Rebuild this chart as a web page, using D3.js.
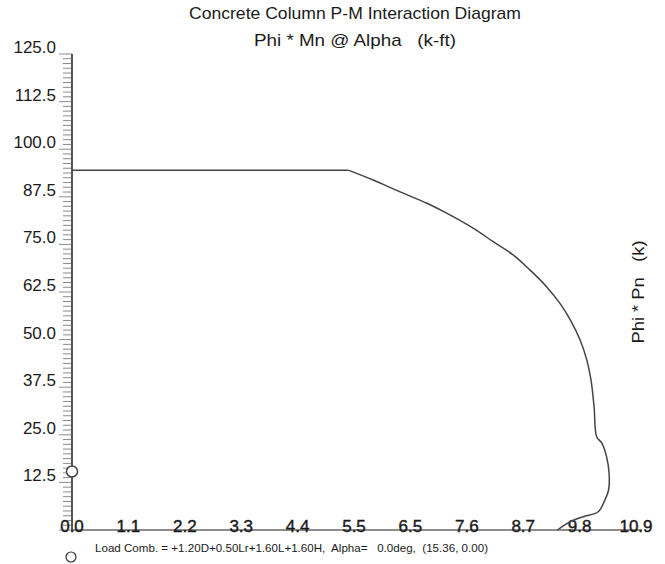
<!DOCTYPE html>
<html>
<head>
<meta charset="utf-8">
<script src="https://cdn.jsdelivr.net/npm/d3@7"></script>
<style>
  html, body { margin: 0; padding: 0; background: #fff; }
  svg { display: block; }
  text { font-family: "Liberation Sans", Arial, sans-serif; fill: #1a1a1a; }
</style>
</head>
<body>
<script>
// Interaction curve: design moment (k-ft) vs design axial load (k)
const momentVals = [0, 5.34, 5.82, 6.34, 6.86, 7.24, 7.76, 8.14, 8.53, 8.85, 9.17, 9.43, 9.63, 9.82, 9.95, 10.03, 10.09, 10.14, 10.24, 10.33, 10.38, 10.37, 10.30, 10.17, 9.88, 9.63, 9.38];
const axialVals  = [94.5, 94.5, 91.9, 88.8, 85.8, 83.2, 79.2, 75.7, 72.2, 68.3, 63.9, 59.5, 55.2, 49.9, 44.6, 39.4, 32.4, 24.5, 22.8, 19.3, 14.9, 10.5, 7.9, 4.8, 3.5, 2.2, 0.0];

// Axis tick labels
const xTickVals   = [0, 1.09, 2.18, 3.27, 4.36, 5.45, 6.54, 7.63, 8.72, 9.81, 10.9];
const xTickLabels = ["0.0", "1.1", "2.2", "3.3", "4.4", "5.5", "6.5", "7.6", "8.7", "9.8", "10.9"];
const yTickVals   = [12.5, 25, 37.5, 50, 62.5, 75, 87.5, 100, 112.5, 125];
const yTickLabels = ["12.5", "25.0", "37.5", "50.0", "62.5", "75.0", "87.5", "100.0", "112.5", "125.0"];

// Load combination point (M, P)
const loadMoment = [0.00];
const loadAxial  = [15.36];
const legendText = "Load Comb. = +1.20D+0.50Lr+1.60L+1.60H,  Alpha=   0.0deg,  (15.36, 0.00)";

const W = 665, H = 564;
const svg = d3.select("body").append("svg").attr("width", W).attr("height", H);
svg.append("rect").attr("width", W).attr("height", H).attr("fill", "#fff");

const x = d3.scaleLinear().domain([0, 10.9]).range([72, 636]);
const y = d3.scaleLinear().domain([0, 125]).range([530, 54]);

// Titles
svg.append("text").attr("x", 355).attr("y", 19).attr("text-anchor", "middle")
  .attr("font-size", 17).attr("textLength", 332).attr("lengthAdjust", "spacingAndGlyphs")
  .text("Concrete Column P-M Interaction Diagram");
svg.append("text").attr("x", 355).attr("y", 46).attr("text-anchor", "middle")
  .attr("font-size", 17).attr("xml:space", "preserve")
  .attr("textLength", 202).attr("lengthAdjust", "spacingAndGlyphs")
  .text("Phi * Mn @ Alpha   (k-ft)");

// Vertical axis title on the right
svg.append("text").attr("transform", "translate(644,292) rotate(-90)")
  .attr("text-anchor", "middle").attr("font-size", 17).attr("xml:space", "preserve")
  .attr("textLength", 103).attr("lengthAdjust", "spacingAndGlyphs")
  .text("Phi * Pn   (k)");

// Y axis minor ticks every 1.25 k
const minor = d3.range(0, 125.001, 1.25);
svg.append("g").selectAll("line").data(minor).join("line")
  .attr("x1", d => (Math.round(d * 100) % 1250 === 0) ? 59 : 63)
  .attr("x2", 72)
  .attr("y1", d => y(d)).attr("y2", d => y(d))
  .attr("stroke", "#8a8a8a").attr("stroke-width", 1);

// Y axis line
svg.append("line").attr("x1", 72).attr("x2", 72).attr("y1", y(125)).attr("y2", y(0))
  .attr("stroke", "#555").attr("stroke-width", 2);

// Y tick labels sit just above their tick
svg.append("g").selectAll("text").data(yTickVals).join("text")
  .attr("x", 56).attr("y", d => y(d) - 1)
  .attr("text-anchor", "end").attr("font-size", 17)
  .text((d, i) => yTickLabels[i]);

// X axis line
svg.append("line").attr("x1", 72).attr("x2", x(10.9) + 6).attr("y1", y(0)).attr("y2", y(0))
  .attr("stroke", "#666").attr("stroke-width", 1.5);

// X tick labels resting on the axis line
svg.append("g").selectAll("text").data(xTickVals).join("text")
  .attr("x", d => x(d)).attr("y", y(0) + 2)
  .attr("text-anchor", "middle").attr("font-size", 17)
  .attr("stroke", "#1a1a1a").attr("stroke-width", 0.4)
  .text((d, i) => xTickLabels[i]);

// Interaction curve: straight compression cap, then a smooth pass through the rest
const pts = momentVals.map((m, i) => [m, axialVals[i]]);
const curveStyle = p => p.attr("fill", "none").attr("stroke", "#444").attr("stroke-width", 1.5);
svg.append("path").datum(pts.slice(0, 2))
  .attr("d", d3.line().x(d => x(d[0])).y(d => y(d[1])))
  .call(curveStyle);
svg.append("path").datum(pts.slice(1))
  .attr("d", d3.line().x(d => x(d[0])).y(d => y(d[1])).curve(d3.curveCatmullRom.alpha(0.5)))
  .call(curveStyle);

// Load point
svg.append("g").selectAll("circle").data(loadMoment).join("circle")
  .attr("cx", d => x(d)).attr("cy", (d, i) => y(loadAxial[i])).attr("r", 5.5)
  .attr("fill", "#fff").attr("stroke", "#444").attr("stroke-width", 1.5);

// Legend
svg.append("circle").attr("cx", 71).attr("cy", 557).attr("r", 5)
  .attr("fill", "#fff").attr("stroke", "#333").attr("stroke-width", 1.2);
svg.append("text").attr("x", 95).attr("y", 552).attr("font-size", 10.5)
  .attr("xml:space", "preserve")
  .attr("textLength", 393).attr("lengthAdjust", "spacingAndGlyphs")
  .text(legendText);
</script>
</body>
</html>
